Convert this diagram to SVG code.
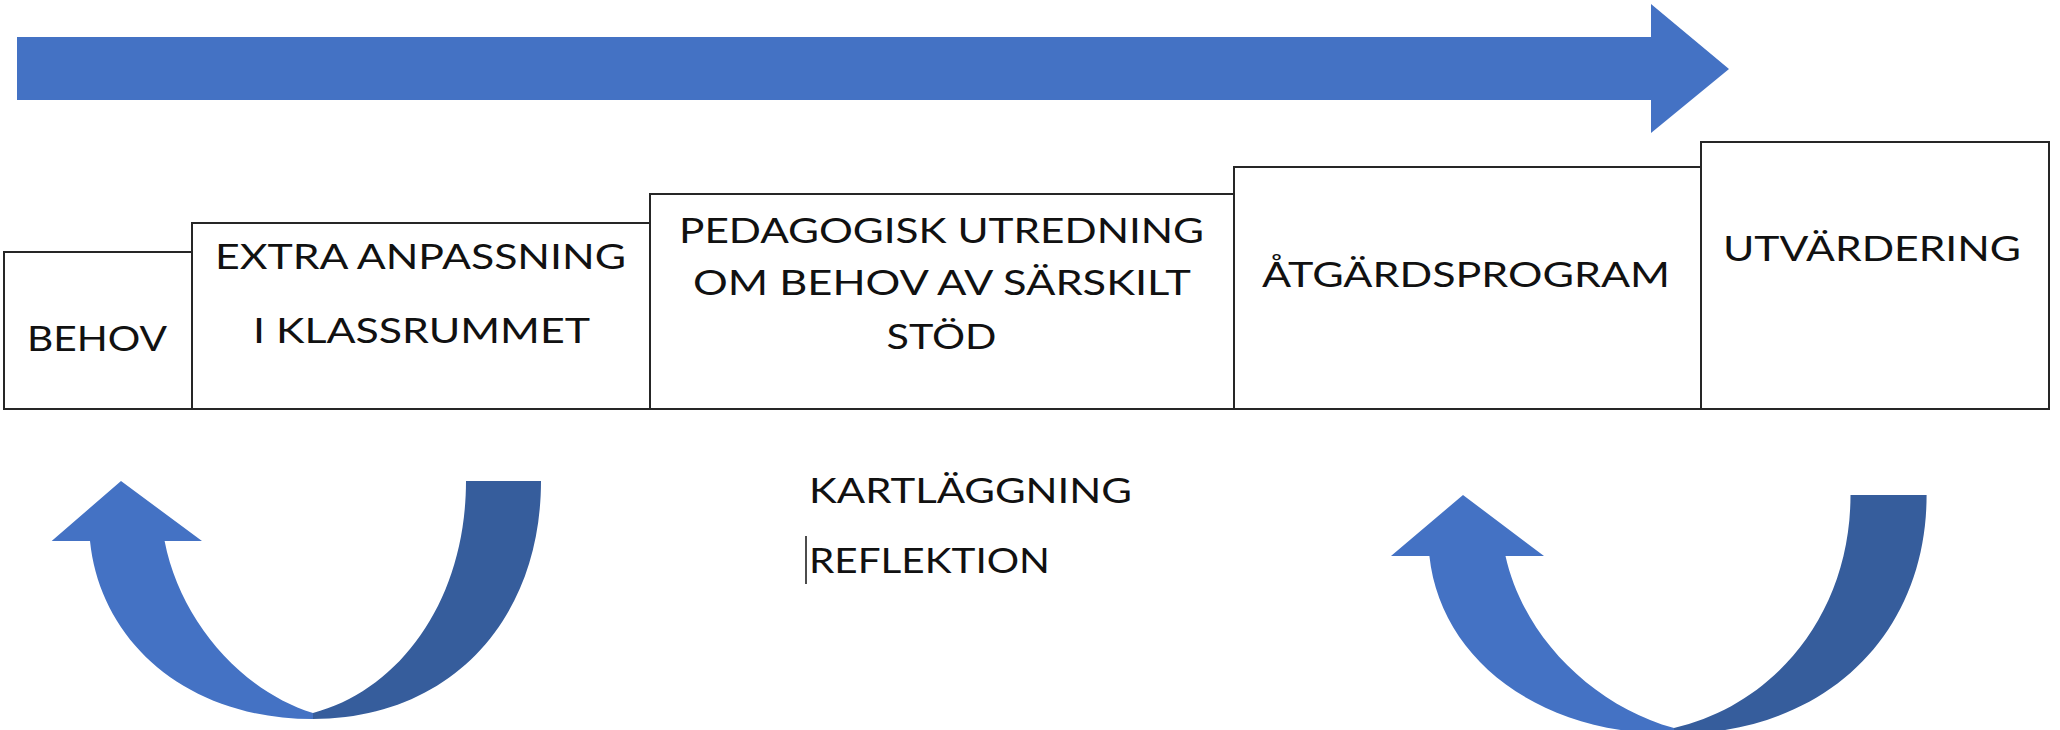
<svg xmlns="http://www.w3.org/2000/svg" width="2060" height="730" viewBox="0 0 2060 730">
<style>
.box{fill:#ffffff;stroke:#262626;stroke-width:2}
.lbl{font-family:Lato,"Liberation Sans",sans-serif;font-size:34px;fill:#111111;text-anchor:middle}
.free{font-family:Lato,"Liberation Sans",sans-serif;font-size:34px;fill:#111111}
.light{fill:#4472C4}
.dark{fill:#365D9C}
</style>
<rect width="2060" height="730" fill="#ffffff"/>
<g id="connectors">
<polygon id="timeline-arrow" class="light" points="17,37 1651,37 1651,4 1729,69 1651,133 1651,100 17,100"/>
<g id="loop-left">
<path class="dark" d="M466,481 L541,481 C541,620 450,719 313,719 L313,713 C400,690 466,600 466,481 Z"/>
<path class="light" d="M90,541 C100,640 185,719 313,719 L313,713 C240,690 180,620 164.6,541 L202,541 L121,481 L51.7,541 Z"/>
</g>
<g id="loop-right">
<path class="dark" d="M1850.5,495 L1926.6,495 C1926.6,634.6 1825.6,734 1674,734 L1674,728 C1774,705 1850.5,614.5 1850.5,495 Z"/>
<path class="light" d="M1429.4,556 C1440,655 1533,734 1674,734 L1674,728 C1591,705 1523,635 1505.5,556 L1544,556 L1463,495 L1391,556 Z"/>
</g>
</g>
<g id="node-behov">
<rect class="box" x="4" y="252" width="188" height="157"/>
<text class="lbl" x="97" y="351" textLength="140" lengthAdjust="spacingAndGlyphs">BEHOV</text>
</g>
<g id="node-extra">
<rect class="box" x="192" y="223" width="458" height="186"/>
<text class="lbl" x="420.5" y="269" textLength="411" lengthAdjust="spacingAndGlyphs">EXTRA ANPASSNING</text>
<text class="lbl" x="421.5" y="343" textLength="337" lengthAdjust="spacingAndGlyphs">I KLASSRUMMET</text>
</g>
<g id="node-pedagogisk">
<rect class="box" x="650" y="194" width="584" height="215"/>
<text class="lbl" x="941.5" y="243" textLength="525" lengthAdjust="spacingAndGlyphs">PEDAGOGISK UTREDNING</text>
<text class="lbl" x="942" y="295" textLength="498" lengthAdjust="spacingAndGlyphs">OM BEHOV AV SÄRSKILT</text>
<text class="lbl" x="941.5" y="349" textLength="110" lengthAdjust="spacingAndGlyphs">STÖD</text>
</g>
<g id="node-atgard">
<rect class="box" x="1234" y="167" width="467" height="242"/>
<text class="lbl" x="1466" y="287" textLength="408" lengthAdjust="spacingAndGlyphs">ÅTGÄRDSPROGRAM</text>
</g>
<g id="node-utvardering">
<rect class="box" x="1701" y="142" width="348" height="267"/>
<text class="lbl" x="1872" y="261" textLength="298" lengthAdjust="spacingAndGlyphs">UTVÄRDERING</text>
</g>
<g id="notes">
<text class="free" x="809" y="503" textLength="323" lengthAdjust="spacingAndGlyphs">KARTLÄGGNING</text>
<text class="free" x="809" y="573" textLength="241" lengthAdjust="spacingAndGlyphs">REFLEKTION</text>
<line x1="806" y1="536" x2="806" y2="584" stroke="#111111" stroke-width="1.5"/>
</g>
</svg>
